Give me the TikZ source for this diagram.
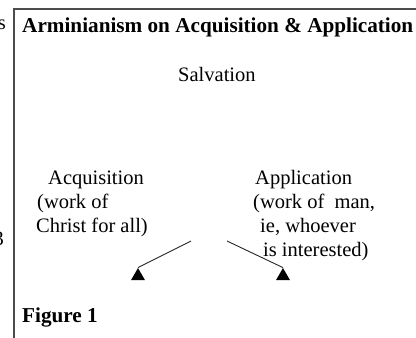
\documentclass[tikz,border=0pt]{standalone}
\usepackage{fontspec}
\setmainfont{Liberation Serif}
\usetikzlibrary{shapes.geometric}
\begin{document}
\begin{tikzpicture}[x=1pt,y=-1pt,
  txt/.style={anchor=base west,inner sep=0pt,font=\fontsize{20.5}{24}\selectfont},
  btxt/.style={txt,font=\fontsize{21.2}{24}\selectfont\bfseries},
  frame/.style={draw=black!70,line width=2pt},
  link/.style={draw=black!85,line width=0.9pt},
  head/.style={regular polygon,regular polygon sides=3,fill=black,draw=none,
    minimum size=16pt,inner sep=0pt}]
  \useasboundingbox (0,0) rectangle (416,338);
  % open frame: top and left edges only
  \coordinate (fbl) at (14,338);
  \coordinate (ftl) at (14,9);
  \coordinate (ftr) at (417,9);
  \draw[frame] (fbl) -- (ftl) -- (ftr);
  % fragments of neighbouring text at the left edge
  \node[txt,anchor=base east] (edgeS) at (6,29) {s};
  \node[txt,anchor=base east] (edge3) at (4,245) {3};
  % headings
  \node[btxt] (title) at (22,32) {Arminianism on Acquisition \& Application};
  \node[txt] (salv) at (178,81) {Salvation};
  % left column
  \node[txt] (acq1) at (48,184) {Acquisition};
  \node[txt] (acq2) at (37,208) {(work of};
  \node[txt] (acq3) at (36,232) {Christ for all)};
  % right column
  \node[txt] (app1) at (255,184) {Application};
  \node[txt] (app2) at (253,208) {(work of\ \ man,};
  \node[txt] (app3) at (260,232) {ie, whoever};
  \node[txt] (app4) at (263,256) {is interested)};
  % arrows
  \coordinate (ls) at (191,241);
  \coordinate (rs) at (227,241);
  \node[head] (lh) at (138,276) {};
  \node[head] (rh) at (283,276) {};
  \draw[link] (ls) -- (lh.corner 1);
  \draw[link] (rs) -- (rh.corner 1);
  \node[btxt] (fig) at (22,322) {Figure 1};
\end{tikzpicture}
\end{document}
